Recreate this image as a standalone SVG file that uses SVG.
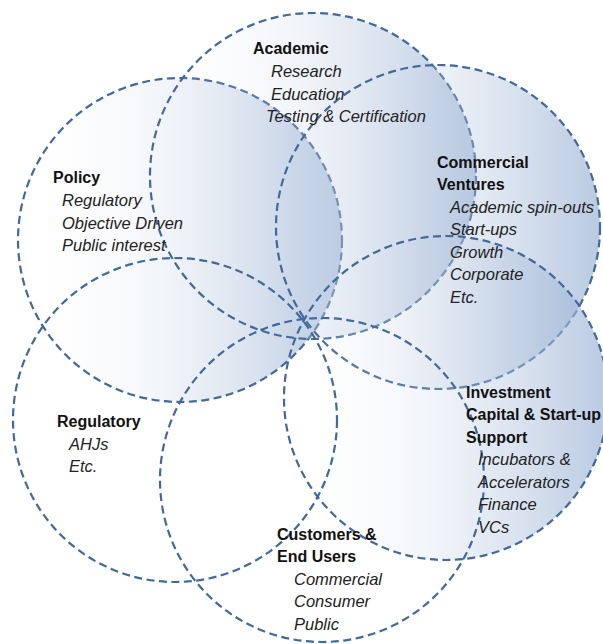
<svg xmlns="http://www.w3.org/2000/svg" width="603" height="644" viewBox="0 0 603 644">
  <defs>
    <linearGradient id="shade" x1="0" y1="0" x2="1" y2="0">
      <stop offset="0" stop-color="#ffffff" stop-opacity="0"/>
      <stop offset="0.5" stop-color="#bccbe1" stop-opacity="0.25"/>
      <stop offset="1" stop-color="#9db5d6" stop-opacity="0.72"/>
    </linearGradient>
    <style>
      .ring { stroke: #41699c; stroke-width: 2.2; stroke-dasharray: 8 4.5; }
      .filled { fill: url(#shade); }
      .open { fill: none; }
      .head { font-family: "Liberation Sans", Arial, sans-serif; font-weight: bold; font-size: 16px; fill: #111111; }
      .item { font-family: "Liberation Sans", Arial, sans-serif; font-style: italic; font-size: 16.5px; fill: #222222; }
    </style>
  </defs>
  <rect width="603" height="644" fill="#ffffff"/>

  <g id="nodes">
    <g id="policy">
      <circle class="ring filled" cx="180" cy="240" r="162"/>
    </g>
    <g id="academic">
      <circle class="ring filled" cx="313" cy="176" r="163"/>
    </g>
    <g id="commercial-ventures">
      <circle class="ring filled" cx="438" cy="227" r="162"/>
    </g>
    <g id="investment">
      <circle class="ring filled" cx="446" cy="398" r="162"/>
    </g>
    <g id="regulatory">
      <circle class="ring open" cx="175" cy="420" r="162"/>
    </g>
    <g id="customers">
      <circle class="ring open" cx="322" cy="480" r="162"/>
    </g>
  </g>

  <g id="labels">
    <g id="policy-label">
      <text class="head" x="53" y="183">Policy</text>
      <text class="item" x="62" y="206">Regulatory</text>
      <text class="item" x="62" y="228.5">Objective Driven</text>
      <text class="item" x="62" y="251">Public interest</text>
    </g>
    <g id="academic-label">
      <text class="head" x="253" y="54">Academic</text>
      <text class="item" x="271" y="77">Research</text>
      <text class="item" x="271" y="99.5">Education</text>
      <text class="item" x="266" y="122">Testing &amp; Certification</text>
    </g>
    <g id="commercial-ventures-label">
      <text class="head" x="437" y="167.5">Commercial</text>
      <text class="head" x="437" y="190">Ventures</text>
      <text class="item" x="450" y="212.5">Academic spin-outs</text>
      <text class="item" x="450" y="235">Start-ups</text>
      <text class="item" x="450" y="257.5">Growth</text>
      <text class="item" x="450" y="280">Corporate</text>
      <text class="item" x="450" y="302.5">Etc.</text>
    </g>
    <g id="investment-label">
      <text class="head" x="466" y="397.5">Investment</text>
      <text class="head" x="466" y="420">Capital &amp; Start-up</text>
      <text class="head" x="466" y="442.5">Support</text>
      <text class="item" x="478" y="465">Incubators &amp;</text>
      <text class="item" x="478" y="487.5">Accelerators</text>
      <text class="item" x="478" y="510">Finance</text>
      <text class="item" x="478" y="532.5">VCs</text>
    </g>
    <g id="regulatory-label">
      <text class="head" x="57" y="427">Regulatory</text>
      <text class="item" x="69" y="449.5">AHJs</text>
      <text class="item" x="69" y="472">Etc.</text>
    </g>
    <g id="customers-label">
      <text class="head" x="277" y="539.5">Customers &amp;</text>
      <text class="head" x="277" y="562">End Users</text>
      <text class="item" x="294" y="584.5">Commercial</text>
      <text class="item" x="294" y="607">Consumer</text>
      <text class="item" x="294" y="629.5">Public</text>
    </g>
  </g>
</svg>
